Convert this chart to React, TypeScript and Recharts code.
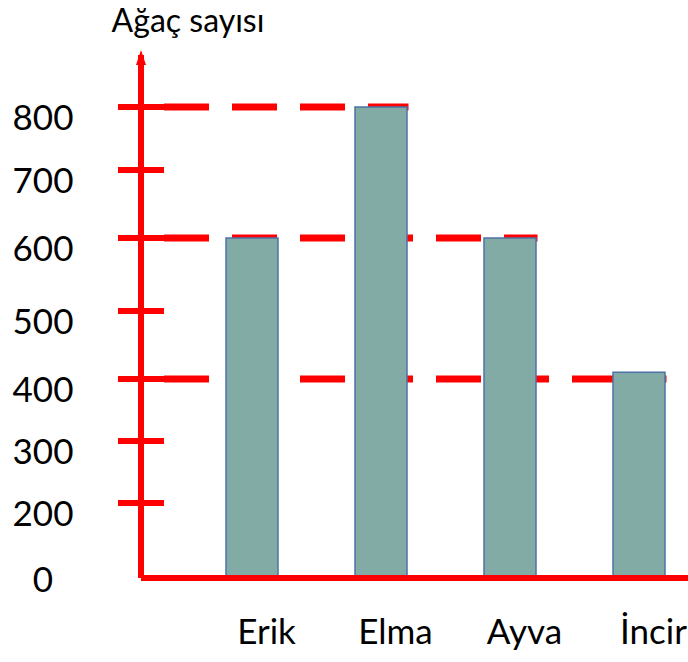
import React from 'react';
import { BarChart, Bar, XAxis, YAxis, ReferenceLine } from 'recharts';

// meyve ağaçları
const fruits = ['Erik', 'Elma', 'Ayva', 'İncir'];
const treeCounts = [600, 800, 600, 410];
const yTicks = [0, 200, 300, 400, 500, 600, 700, 800];

// kesik çizgiler: hangi seviyeden hangi sütuna kadar
const guideLevels = [800, 600, 400];
const guideTargets = ['Elma', 'Ayva', 'İncir'];

// the hand drawn axis is not evenly spaced, so the scale follows its tick marks
const knotValues = [0, 200, 300, 400, 500, 600, 700, 800, 900];
const knotStops = [0, 0.1434, 0.262, 0.3805, 0.5105, 0.6501, 0.7801, 0.9006, 1];

const RED = '#FF0000';
const FONT = 'Lato, "DejaVu Sans", sans-serif';
const AXIS_X = 141;
const TICK_HALF = 23;
const BAR_SIZE = 52;

const data = fruits.map((name, i) => ({ name, count: treeCounts[i] }));

function unevenScale(dom: number[] = [0, 900], rng: number[] = [0, 1]): any {
  const scale: any = (v: number) => {
    if (typeof v !== 'number' || Number.isNaN(v)) return NaN;
    let i = 1;
    while (i < knotValues.length - 1 && v > knotValues[i]) i++;
    const a = knotValues[i - 1];
    const b = knotValues[i];
    const t = (v - a) / (b - a);
    const f = knotStops[i - 1] + t * (knotStops[i] - knotStops[i - 1]);
    return rng[0] + f * (rng[1] - rng[0]);
  };
  scale.domain = (d?: number[]) => {
    if (d === undefined) return dom.slice();
    dom = d.slice();
    return scale;
  };
  scale.range = (r?: number[]) => {
    if (r === undefined) return rng.slice();
    rng = r.slice();
    return scale;
  };
  scale.copy = () => unevenScale(dom, rng);
  scale.ticks = () => knotValues.slice(0, -1);
  scale.tickFormat = () => (v: number) => String(v);
  scale.nice = () => scale;
  scale.clamp = () => scale;
  scale.invert = (px: number) => {
    const f = (px - rng[0]) / (rng[1] - rng[0]);
    let i = 1;
    while (i < knotStops.length - 1 && f > knotStops[i]) i++;
    const t = (f - knotStops[i - 1]) / (knotStops[i] - knotStops[i - 1]);
    return knotValues[i - 1] + t * (knotValues[i] - knotValues[i - 1]);
  };
  return scale;
}

const yScale = unevenScale();

const YTick = (props: any) => {
  const { x, y, payload } = props;
  return (
    <g>
      {payload.value !== 0 && (
        <line x1={x - TICK_HALF} x2={x + TICK_HALF} y1={y} y2={y} stroke={RED} strokeWidth={6} />
      )}
      <text
        x={43}
        y={payload.value === 0 ? y : y + 9}
        textAnchor="middle"
        dominantBaseline="central"
        fontFamily={FONT}
        fontSize={35}
        fill="#000"
      >
        {payload.value}
      </text>
    </g>
  );
};

const XTick = (props: any) => {
  const { x, y, payload } = props;
  return (
    <text x={x + 15} y={y + 66} textAnchor="middle" fontFamily={FONT} fontSize={35} fill="#000">
      {payload.value}
    </text>
  );
};

const YTitle = (props: any) => {
  const vb = props.viewBox || {};
  const ax = vb.x + vb.width;
  const top = vb.y;
  return (
    <g>
      <polygon points={`${ax},${top - 5} ${ax - 5},${top + 10} ${ax + 5},${top + 10}`} fill={RED} />
      <text x={ax + 47} y={top - 23} textAnchor="middle" fontFamily={FONT} fontSize={32} fill="#000">
        Ağaç sayısı
      </text>
    </g>
  );
};

const GuideLine = (props: any) => {
  const { x2, y1 } = props;
  if (x2 == null || y1 == null) return null;
  return (
    <line
      x1={AXIS_X + TICK_HALF}
      y1={y1}
      x2={x2 + BAR_SIZE / 2 + 2}
      y2={y1}
      stroke={RED}
      strokeWidth={7}
      strokeDasharray="45 23"
    />
  );
};

export default function App() {
  return (
    <div style={{ position: 'absolute', left: 0, top: 0, width: 688, height: 662, overflow: 'hidden', background: '#fff' }}>
      <BarChart width={720} height={662} data={data} margin={{ top: 55, right: 0, bottom: 0, left: 0 }}>
        <XAxis
          dataKey="name"
          height={84}
          padding={{ left: 46, right: 17 }}
          axisLine={{ stroke: RED, strokeWidth: 6 }}
          tickLine={false}
          tickSize={0}
          tickMargin={0}
          tick={<XTick />}
          interval={0}
        />
        <YAxis
          type="number"
          width={AXIS_X}
          domain={[0, 900]}
          ticks={yTicks}
          scale={yScale}
          interval={0}
          axisLine={{ stroke: RED, strokeWidth: 6 }}
          tickLine={false}
          tickSize={0}
          tickMargin={0}
          tick={<YTick />}
          label={{ content: (p: any) => <YTitle {...p} /> }}
        />
        {guideLevels.map((level, i) => (
          <ReferenceLine
            key={level}
            zIndex={200}
            segment={[
              { x: fruits[0], y: level },
              { x: guideTargets[i], y: level },
            ]}
            shape={(p: any) => <GuideLine {...p} />}
          />
        ))}
        <Bar
          dataKey="count"
          barSize={BAR_SIZE}
          fill="#83ABA6"
          stroke="#4F73A6"
          strokeWidth={1.5}
          isAnimationActive={false}
        />
      </BarChart>
    </div>
  );
}
